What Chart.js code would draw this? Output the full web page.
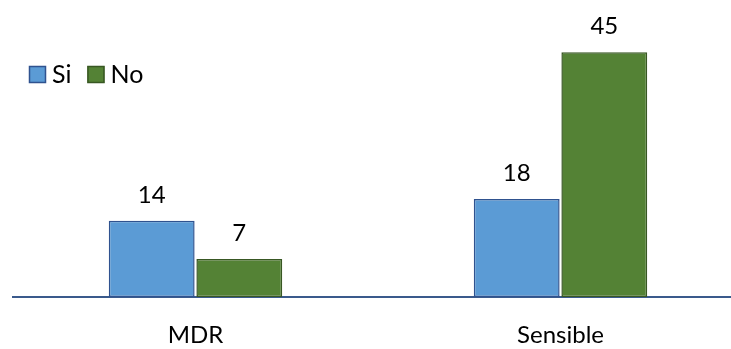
<!DOCTYPE html>
<html>
<head>
<meta charset="utf-8">
<script src="https://cdn.jsdelivr.net/npm/chart.js@4.4.1/dist/chart.umd.min.js"></script>
<style>
  html, body { margin: 0; padding: 0; background: #fff; overflow: hidden; }
  #wrap { width: 743px; height: 349px; }
</style>
</head>
<body>
<div id="wrap"><canvas id="myChart" width="743" height="349"></canvas></div>
<script>
// data
var categories = ['MDR', 'Sensible'];
var siValues = [14, 18];
var noValues = [7, 45];
var seriesNames = ['Si', 'No'];

var FONT = 'Lato, Calibri, "Open Sans", sans-serif';

// value labels above each bar
var valueLabels = {
  id: 'valueLabels',
  afterDatasetsDraw: function(chart) {
    var c = chart.ctx;
    c.save();
    c.font = '24px ' + FONT;
    c.fillStyle = '#000';
    c.textAlign = 'center';
    c.textBaseline = 'alphabetic';
    chart.data.datasets.forEach(function(ds, i) {
      chart.getDatasetMeta(i).data.forEach(function(bar, j) {
        c.fillText(ds.data[j], bar.x, bar.y - 18);
      });
    });
    c.restore();
  }
};

// legend sitting inside the plot, top left
var insideLegend = {
  id: 'insideLegend',
  afterDraw: function(chart) {
    var c = chart.ctx;
    var x = 29, y = 66;
    c.save();
    c.font = '25px ' + FONT;
    c.textBaseline = 'alphabetic';
    chart.data.datasets.forEach(function(ds) {
      c.fillStyle = ds.backgroundColor;
      c.fillRect(x, y, 17, 17);
      c.strokeStyle = ds.borderColor;
      c.lineWidth = 1.5;
      c.strokeRect(x + 0.5, y + 0.5, 16, 16);
      c.fillStyle = '#000';
      c.fillText(ds.label, x + 23, y + 17);
      x += 23 + c.measureText(ds.label).width + 16;
    });
    c.restore();
  }
};

var ctx = document.getElementById('myChart').getContext('2d');
var myChart = new Chart(ctx, {
  type: 'bar',
  data: {
    labels: categories,
    datasets: [{
      label: seriesNames[0],
      data: siValues,
      backgroundColor: '#5B9BD5',
      borderColor: '#2F528F',
      borderWidth: 1.5,
      borderSkipped: false
    }, {
      label: seriesNames[1],
      data: noValues,
      backgroundColor: '#548235',
      borderColor: '#385723',
      borderWidth: 1.5,
      borderSkipped: false
    }]
  },
  options: {
    responsive: false,
    animation: false,
    categoryPercentage: 0.48,
    barPercentage: 0.98,
    layout: { padding: { left: 13, right: 0, top: 25, bottom: -24 } },
    plugins: {
      legend: { display: false },
      tooltip: { enabled: false }
    },
    scales: {
      x: {
        grid: { display: false, drawTicks: false },
        border: { display: true, color: '#3A5A8C', width: 2 },
        ticks: { color: '#000', padding: 26, font: { family: FONT, size: 24, lineHeight: 1 } }
      },
      y: {
        display: false,
        min: 0,
        max: 50
      }
    }
  },
  plugins: [valueLabels, insideLegend]
});
</script>
</body>
</html>
